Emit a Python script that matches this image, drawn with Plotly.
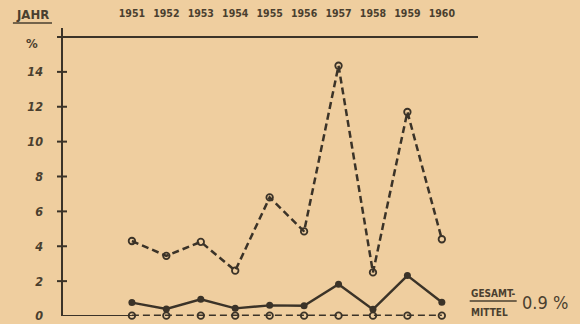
import plotly.graph_objects as go

years = [1951, 1952, 1953, 1954, 1955, 1956, 1957, 1958, 1959, 1960]
upper_dashed = [4.3, 3.45, 4.25, 2.6, 6.8, 4.85, 14.35, 2.5, 11.7, 4.4]
middle_solid = [0.77, 0.4, 0.96, 0.44, 0.61, 0.59, 1.82, 0.38, 2.32, 0.79]
lower_dashed = [0.02, 0.02, 0.02, 0.02, 0.02, 0.02, 0.02, 0.02, 0.02, 0.02]
y_ticks = [0, 2, 4, 6, 8, 10, 12, 14]
year_labels = [str(y) for y in years]
mean_label = "0.9 %"

BG = "#EFCE9F"
INK = "#3B3328"
TXT = "#4A3F2F"
FONT = "Liberation Sans Narrow, DejaVu Sans Condensed, Arial Narrow, sans-serif"

fig = go.Figure()

fig.add_trace(go.Scatter(
    x=years, y=upper_dashed, mode="lines+markers",
    line=dict(color=INK, width=2.5, dash="7px,4px"),
    marker=dict(symbol="circle-open", size=6.5, color=INK, line=dict(width=1.8, color=INK)),
    cliponaxis=False, showlegend=False))
fig.add_trace(go.Scatter(
    x=years, y=lower_dashed, mode="lines+markers",
    line=dict(color=INK, width=2.5, dash="7px,4px"),
    marker=dict(symbol="circle-open", size=6.5, color=INK, line=dict(width=1.8, color=INK)),
    cliponaxis=False, showlegend=False))
fig.add_trace(go.Scatter(
    x=years, y=middle_solid, mode="lines+markers",
    line=dict(color=INK, width=2.4),
    marker=dict(symbol="circle", size=7, color=INK),
    cliponaxis=False, showlegend=False))

shapes = []
shapes.append(dict(type="line", xref="paper", yref="paper", x0=-0.012, x1=1.0, y0=1, y1=1,
                   line=dict(color=INK, width=2)))
shapes.append(dict(type="line", xref="paper", yref="paper", x0=0, x1=0, y0=0, y1=1.032,
                   line=dict(color=INK, width=2)))
shapes.append(dict(type="line", xref="x", yref="y", x0=1948.97, x1=years[0], y0=0, y1=0,
                   line=dict(color=INK, width=2)))
for t in y_ticks[1:]:
    shapes.append(dict(type="line", xref="paper", yref="y", x0=-0.012, x1=0.012, y0=t, y1=t,
                       line=dict(color=INK, width=2)))

annotations = [
    dict(text="<b>JAHR</b>", xref="paper", yref="paper", x=-0.071, y=1.079, xanchor="center",
         yanchor="middle", showarrow=False, font=dict(family=FONT, size=13, color=TXT)),
    dict(text="<b>%</b>", xref="paper", yref="y", x=-0.073, y=15.65, xanchor="center",
         yanchor="middle", showarrow=False, font=dict(family=FONT, size=13, color=TXT)),
    dict(text="<b>GESAMT-</b>", xref="paper", yref="paper", x=0.978, y=0.082, xanchor="left",
         yanchor="middle", showarrow=False, font=dict(family=FONT, size=10, color=TXT)),
    dict(text="<b>MITTEL</b>", xref="paper", yref="paper", x=0.978, y=0.014, xanchor="left",
         yanchor="middle", showarrow=False, font=dict(family=FONT, size=10, color=TXT)),
    dict(text=mean_label, xref="paper", yref="paper", x=1.101, y=0.047, xanchor="left",
         yanchor="middle", showarrow=False, font=dict(family=FONT, size=18, color=TXT)),
]
shapes.append(dict(type="line", xref="paper", yref="paper", x0=-0.118, x1=-0.024,
                   y0=1.05, y1=1.05, line=dict(color=TXT, width=1.5)))
shapes.append(dict(type="line", xref="paper", yref="paper", x0=0.98, x1=1.093,
                   y0=0.054, y1=0.054, line=dict(color=TXT, width=1.5)))

fig.update_layout(
    width=580, height=324,
    margin=dict(l=62, r=102, t=37, b=8, autoexpand=False),
    paper_bgcolor=BG, plot_bgcolor=BG,
    shapes=shapes, annotations=annotations,
    xaxis=dict(range=[1948.97, 1961.05], side="top", tickvals=years, ticktext=year_labels,
               showgrid=False, zeroline=False, showline=False, ticks="", automargin=False,
               ticklabelstandoff=17,
               tickfont=dict(family=FONT, size=10.5, color=TXT, weight="bold")),
    yaxis=dict(range=[0, 16], tickvals=y_ticks, showgrid=False, zeroline=False, showline=False,
               ticks="", ticklabelstandoff=18, automargin=False,
               tickfont=dict(family=FONT, size=12.5, color=TXT, weight="bold", style="italic")),
)

fig.write_html("out.html", config={"displayModeBar": False},
               post_script="document.body.style.margin='0';document.body.style.background='%s';" % BG)
